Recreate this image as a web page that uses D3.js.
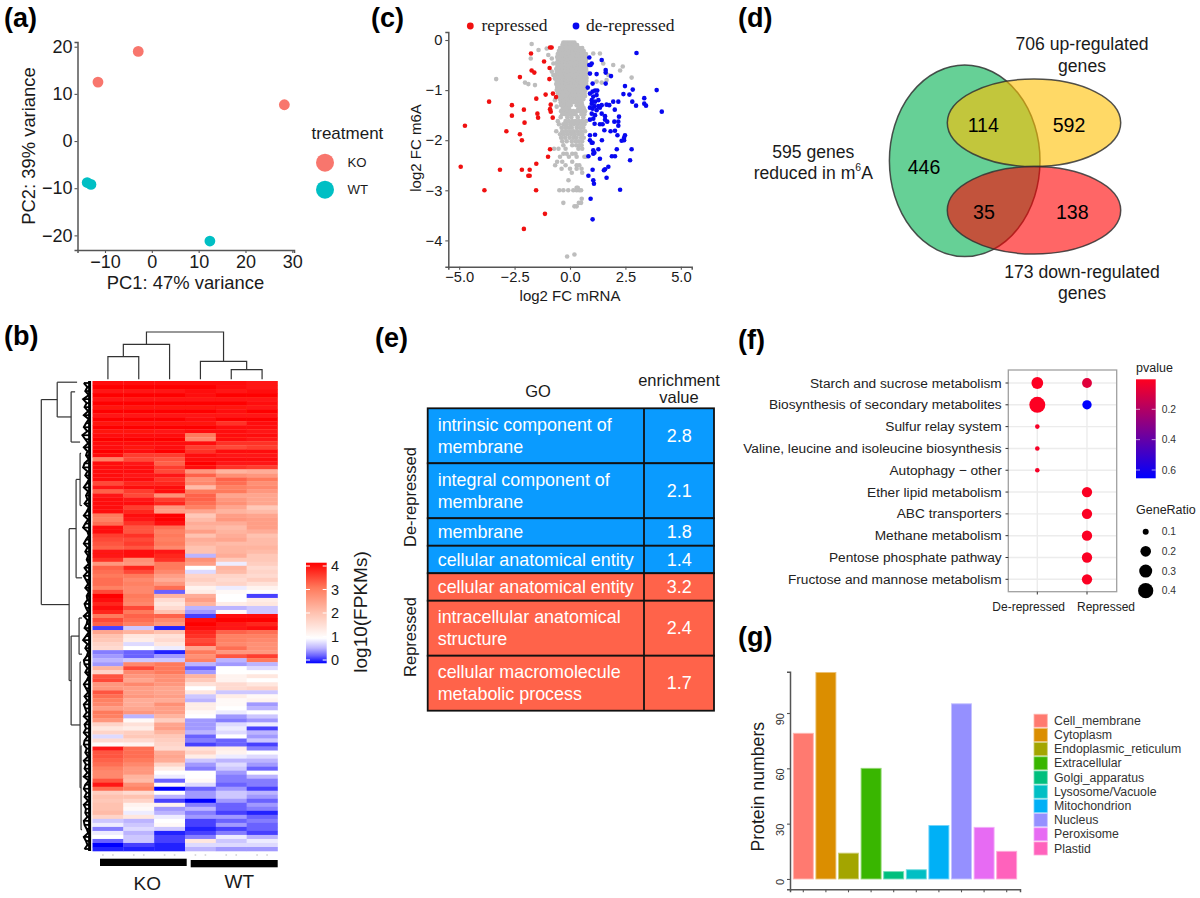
<!DOCTYPE html>
<html><head><meta charset="utf-8">
<script src="https://cdn.jsdelivr.net/npm/d3@7/dist/d3.min.js"></script>
<style>html,body{margin:0;padding:0;background:#fff}svg{display:block}text{font-family:"Liberation Sans",Arial,sans-serif}</style>
</head><body><svg id="c" width="1200" height="898"></svg>
<script>
// ---------- panel (a)
const pcaKO=[[28.3,7.7],[-11.5,12.5],[-2.9,19]];
const pcaWT=[[-13.8,-8.8],[-13,-9.2],[12.4,-21.2]];
const pcaXTicks=[-10,0,10,20,30], pcaYTicks=[-20,-10,0,10,20];
// ---------- panel (c)
const repressed=[[-4.93,-2.53],[-4.74,-1.71],[-3.86,-3],[-3.65,-1.23],[-3.16,-2.59],[-2.87,-1.82],[-2.62,-1.3],[-2.62,-1.51],[-2.26,-.74],[-2.26,-1.88],[-2.17,-2],[-2.17,-2.59],[-2.08,-1.39],[-2.05,-1.65],[-2.08,-3.77],[-1.88,-2.71],[-1.82,-2.71],[-1.82,-2.59],[-1.76,-.27],[-1.73,-.61],[-1.61,-.65],[-1.53,-3],[-1.52,-1.17],[-1.52,-2.47],[-1.47,-1.47],[-1.44,-1.55],[-1.17,-.43],[-1.13,-3.47],[-1.1,-1.09],[-.99,-2.33],[-.93,-.78],[-.92,-.56],[-.9,-2.18],[-.9,-.15],[-.83,-.15],[-.87,-1.29],[-.9,-1.38],[-.87,-1.43],[-.78,-1.55],[-.77,-1.07],[-.63,-1.14]];
const derepressed=[[3,-.26],[.87,-.35],[1.43,-.4],[.87,-.5],[.93,-.5],[.98,-.47],[1.61,-.6],[1.61,-.65],[.9,-.67],[1.2,-.68],[1.85,-.72],[.8,-.95],[1.02,-.87],[1.61,-.87],[3.91,-1],[2.48,-.92],[2.83,-.99],[2.68,-1.09],[2.41,-1.08],[3.35,-1.16],[2.81,-1.23],[2.98,-1.31],[3.35,-1.27],[3.43,-1.31],[4.14,-1.43],[2.18,-1.23],[1.95,-1.23],[2.02,-1.39],[2.21,-1.53],[2.18,-1.63],[2,-1.63],[2.18,-1.71],[.9,-1.07],[1.02,-1.03],[1.13,-1.01],[1.23,-1.01],[1.05,-1.13],[1.2,-1.1],[.98,-1.2],[1.13,-1.23],[1.28,-1.2],[.98,-1.27],[1.1,-1.32],[1.28,-1.32],[1.43,-1.3],[1.65,-1.29],[1.77,-1.3],[.9,-1.35],[1.02,-1.37],[1.2,-1.4],[1.35,-1.35],[1.13,-1.5],[.98,-1.47],[1.05,-1.57],[.9,-1.59],[1.43,-1.47],[1.58,-1.52],[1.58,-1.59],[1.11,-1.67],[1.35,-1.68],[1.47,-1.68],[1.68,-1.63],[1.83,-1.82],[1.55,-1.8],[1.13,-1.89],[.9,-1.9],[2.03,-1.81],[2.14,-1.9],[2.48,-1.9],[2.44,-1.95],[2.44,-2],[2.33,-2.01],[.9,-2],[.98,-2.05],[1.02,-2.05],[1.44,-2],[1.28,-2.18],[1.05,-2.2],[1.1,-2.25],[2.78,-2.18],[2.11,-2.18],[.83,-2.32],[1.05,-2.27],[1.35,-2.37],[1.89,-2.32],[2.03,-2.32],[2.71,-2.4],[1.73,-2.53],[1.58,-2.58],[1.53,-2.6],[1.02,-2.59],[.83,-2.71],[1.05,-2.8],[1.08,-2.87],[1.65,-2.75],[2.26,-2.99],[.93,-3.17],[1.02,-3.58]];
const grayRows=[
[-.05,[-.3,-.2,-.1,0,.1,.2]],
[-.1,[-.34,-.22,-.12,-.02,.08,.2,.32]],
[-.16,[-.45,-.33,-.2,-.08,.05,.18,.3,.42,.55]],
[-.22,[-.5,-.38,-.26,-.14,0,.13,.25,.38,.5,.62]],
[-.28,[-.55,-.42,-.3,-.17,-.04,.09,.21,.34,.47,.6,.72]],
[-.34,[-.58,-.45,-.32,-.2,-.07,.06,.19,.31,.44,.58,.7]],
[-.4,[-.55,-.43,-.3,-.16,-.03,.1,.23,.35,.48,.6,.72]],
[-.46,[-.6,-.47,-.33,-.2,-.07,.06,.2,.33,.45,.58,.72]],
[-.52,[-.57,-.44,-.3,-.17,-.03,.1,.22,.36,.49,.62,.74]],
[-.58,[-.62,-.48,-.34,-.2,-.06,.07,.2,.33,.47,.6,.73]],
[-.64,[-.6,-.45,-.3,-.17,-.04,.1,.24,.37,.5,.63,.75]],
[-.7,[-.65,-.5,-.35,-.2,-.07,.06,.2,.33,.46,.6,.72]],
[-.76,[-.62,-.47,-.32,-.18,-.04,.09,.22,.36,.5,.63,.75]],
[-.82,[-.6,-.46,-.33,-.2,-.06,.08,.2,.34,.48,.6,.74]],
[-.88,[-.62,-.48,-.34,-.2,-.07,.07,.22,.36,.49,.63,.73]],
[-.94,[-.58,-.44,-.3,-.16,-.03,.1,.24,.38,.5,.62,.72]],
[-1,[-.6,-.46,-.32,-.2,-.06,.08,.2,.33,.46,.6,.7]],
[-1.06,[-.55,-.42,-.28,-.15,0,.13,.26,.4,.53,.66]],
[-1.12,[-.5,-.38,-.24,-.1,.04,.17,.3,.44,.56,.68]],
[-1.18,[-.45,-.32,-.18,-.05,.08,.22,.35,.48,.6]],
[-1.24,[-.42,-.28,-.14,0,.13,.26,.4,.52]],
[-1.3,[-.4,-.25,-.1,.03,.3,.42,.55]],
[-1.36,[-.32,-.18,-.05,.38,.5,.62]],
[-1.42,[-.4,-.27,-.13,.02,.15,.3,.45,.58,.68]],
[-1.48,[-.35,-.2,-.05,.12,.25,.52,.65]],
[-1.54,[-.42,-.12,.06,.35,.6]],
[-1.62,[-.55,-.2,-.05,.1,.25,.4,.55,.72]],
[-1.68,[-.5,-.3,-.15,.02,.18,.35,.5,.65]],
[-1.75,[-.38,-.22,-.08,.08,.3,.45,.6]],
[-1.82,[-.62,-.35,-.18,0,.16,.32,.5,.68]],
[-1.88,[-.45,-.28,-.12,.05,.22,.4,.55]],
[-1.95,[-.4,-.22,-.02,.15,.3,.5,.62]],
[-2.02,[-.35,-.15,.08,.25,.4,.55]],
[-2.1,[-.3,.1,.28,.42,.52]],
[-2.17,[-.72,-.52,-.2,.38,.55]],
[-2.27,[-.3,-.15,.1,.25]],
[-2.33,[-.45,-.05,.3,.65,.72]],
[-2.43,[-.58,-.35,.1]],
[-2.5,[-.67,-.2,.3,.42]],
[-2.57,[-.38,0,.3,.52]],
[-2.65,[.08,.55]],
[-2.8,[-.07]],
[-3,[-.48,-.3,-.08,.15,.3,.42,.5]],
[-2.95,[.3,.35]],
[-3.17,[.53]],
[-3.25,[-.3,.4,.5]],
[-3.32,[.2,.3]],
[-4.32,[-.13]],[-4.28,[.2]]];
const grayFringe=[[-1.73,-.08],[-1.77,-.37],[-3.33,-.78],[-2.03,-.85],[-1.88,-.88],[-1.58,-.9],[-1.42,-.2],[-1.05,-.17],[-.98,-.3],[-.82,-.37],[-.75,-.47],[-.82,-.63],[-.75,-.7],[-.68,-.77],[1.95,-.5],[2.38,-.53],[2.78,-.75],[2.26,-.61],[1.73,-.7],[1.35,-.27],[1.5,-.47],[1.65,-.8],[1.43,-.85],[1.2,-.83],[1.05,-.27],[-.6,-1.33],[-.68,-1.2]];
const pcXTicks=[-5,-2.5,0,2.5,5], pcYTicks=[-4,-3,-2,-1,0];
// ---------- panel (d)
const vennNumbers=[["446",0],["114",1],["592",2],["35",3],["138",4]];
// ---------- panel (e)
const goTerms=[["intrinsic component of","membrane"],["integral component of","membrane"],["membrane"],["cellular anatomical entity"],["cellular anatomical entity"],["intracellular anatomical","structure"],["cellular macromolecule","metabolic process"]];
const goValues=["2.8","2.1","1.8","1.4","3.2","2.4","1.7"];
const goGroups=["De-repressed","De-repressed","De-repressed","De-repressed","Repressed","Repressed","Repressed"];
// ---------- panel (f)
const keggTerms=["Starch and sucrose metabolism","Biosynthesis of secondary metabolites","Sulfur relay system","Valine, leucine and isoleucine biosynthesis","Autophagy − other","Ether lipid metabolism","ABC transporters","Methane metabolism","Pentose phosphate pathway","Fructose and mannose metabolism"];
const keggGroups=["De-repressed","Repressed"];
const keggDots=[[0,0,.24,.005],[0,1,.4,.005],[0,2,.05,.02],[0,3,.05,.02],[0,4,.05,.02],[1,0,.18,.08],[1,1,.17,.65],[1,5,.19,.01],[1,6,.19,.01],[1,7,.19,.01],[1,8,.19,.01],[1,9,.19,.01]];
const pvalTicks=[.2,.4,.6], ratioTicks=[.1,.2,.3,.4];
// ---------- panel (g)
const locNames=["Cell_membrane","Cytoplasm","Endoplasmic_reticulum","Extracellular","Golgi_apparatus","Lysosome/Vacuole","Mitochondrion","Nucleus","Peroxisome","Plastid"];
const locCounts=[79,112,14,60,4,5,29,95,28,15];
const locColors=["#FF7A70","#DB8E00","#A3A500","#39B600","#00BF7D","#00BFC4","#00B0F6","#9590FF","#E76BF3","#FF62BC"];
// ---------- panel (b)
const samples=["KO1","KO2","KO3","WT1","WT2","WT3"];
const heatRows=[
[3.9,3.9,3.9,3.9,3.9,3.8],[4,4,4,4,3.9,3.8],[3.8,3.8,3.8,3.9,3.8,3.9],[4,4,4,3.9,4,4],[3.8,3.8,3.8,3.8,3.8,3.8],[4,4,4,4,4,3.9],[3.85,3.85,3.85,3.85,3.85,3.8],[4,4,4,4,3.9,4],[3.8,3.8,3.8,3.8,3.8,3.8],[4,4,4,3.9,4,4],[3.85,3.85,3.85,3.85,3.6,3.9],[4,4,4,4,3.9,3.9],[3.85,3.85,3.8,3.9,3.9,3.8],
[3.9,3.9,3.9,3,3.9,3.9],[4,4,4,2.8,3.9,3.8],[3.9,3.9,3.9,3.9,3.6,3.6],[3.9,3.85,3.9,3.5,3.4,3.5],[4,3.9,4,3.6,3.9,3.9],[3.9,3.5,3.5,3.9,3.8,3.8],[2.9,3.4,3.3,3.9,3.9,3.9],[3.9,3.8,3.2,4,3.8,3.8],[3.9,3.9,3.5,3.9,3.6,3.5],[3.9,3.9,3.4,2.6,2.2,2.3],[3.9,3.8,3.8,3.2,2.7,2.6],[3.9,3.9,3.6,2.7,3.2,3],[3.4,3.7,3.7,2.8,3.1,2.7],[3.8,3.9,3.9,2.1,2.9,2.8],[3.2,3.5,3.9,3,3,2.6],[3.8,3.4,2.7,3.2,2.4,2.4],
[3.9,3.8,3.5,3.2,2.6,2.4],[3.9,3.9,3.7,3.1,2.7,2.4],[3.9,3.5,2.6,2.9,2.4,1.9],[3.9,3.7,2.5,2.4,2.2,2.1],[3,3.9,4,1.9,2.5,2.4],[2.9,3.8,4,2.1,2.6,2.5],[3.1,3.6,3.9,2.3,2.3,2.5],[3.9,3.3,3.1,2.2,2.1,2.5],[3.9,3.3,2.9,2.5,2.2,2.3],[3.5,3.6,3,2,2.3,2],[3.4,3.4,2.9,2.3,2.4,2.1],[3.3,3.5,3,2.2,2.1,2.1],[3.2,3.3,2.8,2,2.2,2.2],[3.8,3.9,3.8,2,2.2,2.1],[3.8,3.9,3.7,.6,2.3,1.9],[3.6,2.7,3.6,2.7,1.9,1.9],[2.6,2.6,3,2.5,.9,1.8],[3.2,3.7,3,1,2.2,1.6],[3.1,3.4,2.8,.8,2.1,1.7],[3,3,2.5,1.7,1.7,1.6],[3.1,2.8,2.3,1.8,1.6,1.8],[3.1,2.9,2.6,1.6,1.7,1.5],[2.9,2.8,3.1,1.2,.9,1.2],[3.4,2.8,.3,1.3,1.1,1],[4,3,2.2,2.3,1,.2],[3.9,2.9,1.6,2.5,1,1.3],[3.7,2.8,1.4,2.2,1.3,1.4],[3.9,3.4,1.6,.6,.6,.7],[3.7,3,2,.5,1.1,.7],[3,3.2,3.2,.2,3.9,3.9],
[3.4,3.1,2.8,3.9,4,4],[3.2,2.9,2.6,4,3.8,3.7],[.2,.7,.1,3.9,3.8,3.9],[2.4,2.2,2,3.7,3.2,3.1],[2,1.4,1.5,3.6,2.9,2.9],[1.9,1.3,1.6,3.4,2.9,2.8],[1.7,.8,1.4,3.5,2.8,2.7],[1.6,1,.9,2.4,3.1,2.7],[.4,.3,.1,3,2.6,2.6],[.5,.3,.5,2.7,3.3,3.5],[.6,.7,.7,2.9,.6,3],[.5,2.8,3,.6,.5,.6],[2.2,3.4,3,.3,1,.8],[1.7,2.8,3,.5,1,1],[3.3,2.6,2.7,2.2,1.2,1.4],[3.4,2.4,2.7,1.9,1.2,1],[2.6,2.8,2.6,1.5,1.6,1.4],[2.6,2.5,2.4,1,1.6,1.7],[3.3,2.5,2.4,1.4,.7,.7],[3.1,2.6,2.5,.7,1.3,1.1],[2.9,2.3,2.3,.6,1.1,1.2],[2.8,2.3,2.7,1.3,1.1,.5],[2.5,2.4,2.5,1.3,1,.6],[3,2.6,2.5,1.1,.9,1],[2.9,.6,2.2,1,.5,.7],[2.6,1.1,1.8,.5,.4,.5],[1.7,1.5,2.4,.5,.8,.9],[1.4,1.3,2.5,.5,.9,.2],[1.7,1.8,2.2,.6,.8,.6],[.8,1.9,1.9,.3,1,.5],
[1.6,1.6,1.8,.4,.3,.7],[1.1,1.2,1.7,.2,.3,.2],[3.8,3.1,1.6,1.5,1.3,.4],[3.3,3.1,2.3,1.7,1.2,1],[3.3,3.1,2.4,1.3,.9,.8],[3.2,3,2.3,.7,.6,.6],[3.1,2.8,1.7,.5,.8,.5],[2.9,2.6,1.3,.4,.7,.3],[2.8,2.6,1,1,.5,1],[2.8,2.2,.9,1,.4,.6],[3.3,2.1,.3,1.1,.4,.4],[3.8,2.7,1.1,.8,.3,.4],[3.1,2.9,0,.3,.5,.2],[1.8,1.6,1,.5,.7,.6],[2,2,.6,.5,.7,.5],[1.9,1.7,.2,0,.5,.3],[2,1.2,1.2,.4,.3,.5],[2,1.1,.5,.6,.3,.4],[2.1,.9,.6,.4,.2,.1],[1.7,1.4,.9,.5,.5,.3],[.7,.6,1,.2,.3,.4],[.9,.7,1.1,.2,.5,.3],[.4,.8,.7,.1,.2,.3],[.9,.6,.1,.2,.4,.2],[1,.7,.2,.4,.9,.6],[.3,.7,.2,1.4,.7,.9],[0,.2,.1,.8,.8,.8],[.1,.1,.1,.6,.5,.5]];
const heatTicks=[0,1,2,3,4];
const colTree={h:47.3,c:[{h:35,c:[{h:22.6,c:[{s:0},{s:1}]},{s:2}]},{h:18,c:[{s:3},{h:9.6,c:[{s:4},{s:5}]}]}]};
const rowTree={h:1,c:[{h:.68,c:[{h:.28,r:.3},{h:.4,c:[{h:.32,r:2.7},{h:.22,r:15.2}]}]},{h:.44,c:[{h:.3,c:[{h:.22,c:[{h:.2,r:18},{h:.18,r:31}]},{h:.18,r:49}]},{h:.4,c:[{h:.24,c:[{h:.18,r:59},{h:.18,r:68}]},{h:.22,c:[{h:.2,r:70},{h:.2,c:[{h:.19,r:90.8},{h:.18,r:111.7}]}]}]}]}]};
const rowComb=[.2,.1,.16,.06,.22,.12,.18,.08,.2,.06,.14,.2,.1,.24,.16,.08,.2,.1,.14,.06,.18,.22,.1,.16,.06,.12,.2,.08,.14,.1,.18,.06,.12,.2,.08,.16,.22,.1,.06,.14,.2,.1,.16,.08,.12,.06,.18,.1,.2,.14,.08,.16,.06,.12,.1,.18,.14,.08,.2,.1,.12,.18,.06,.14,.22,.1,.16,.08,.12,.2,.18,.1,.16,.06,.12,.2,.14,.08,.18,.1,.2,.16,.12,.2,.08,.18,.14,.2,.1,.18,.2,.12,.16,.08,.2,.14,.18,.1,.2,.06,.16,.2,.12,.18,.08,.2,.14,.16,.1,.2,.18,.12,.08,.2,.14,.1,.18];

const svg=d3.select("#c");
const defs=svg.append("defs");
defs.append("filter").attr("id","soft").attr("x","-2%").attr("y","-2%").attr("width","104%").attr("height","104%")
  .append("feGaussianBlur").attr("stdDeviation","0.4 0.7");
const SANS='"Liberation Sans",Arial,sans-serif';
function T(g,x,y,s,o={}){
  const t=g.append("text").attr("x",x).attr("y",y).text(s)
    .attr("font-size",o.size||14).attr("text-anchor",o.anchor||"middle")
    .attr("dominant-baseline",o.base||"central").attr("fill",o.fill||"#1a1a1a")
    .attr("font-weight",o.weight||"normal");
  if(o.family)t.style("font-family",o.family);
  if(o.rot)t.attr("transform",`rotate(${o.rot} ${x} ${y})`);
  return t;
}
function styleAxis(g,size,col="#555",w=1.5){
  g.attr("font-size",size).attr("font-family",SANS);
  g.selectAll(".domain").attr("stroke",col).attr("stroke-width",w);
  g.selectAll(".tick line").attr("stroke",col).attr("stroke-width",1.1);
  g.selectAll(".tick text").attr("fill","#1a1a1a");
}
// panel letters
[["(a)",4,27],["(b)",4,345],["(c)",371,27],["(d)",738,27],["(e)",375,347],["(f)",738,349],["(g)",738,646]].forEach(d=>T(svg,d[1],d[2],d[0],{size:27,weight:"bold",anchor:"start",base:"alphabetic",fill:"#000"}));

// ---------- (a)
{const g=svg.append("g");
 const x=d3.scaleLinear([-15.87,30.36],[77.5,294]),y=d3.scaleLinear([-23.1,21],[250,42]);
 const ax=g.append("g").attr("transform","translate(0,250)").call(d3.axisBottom(x).tickValues(pcaXTicks).tickSizeOuter(0).tickSize(3).tickPadding(2).tickFormat(d3.format("d")));styleAxis(ax,18);
 const ay=g.append("g").attr("transform","translate(77.5,0)").call(d3.axisLeft(y).tickValues(pcaYTicks).tickSizeOuter(0).tickSize(3).tickPadding(2).tickFormat(d3.format("d")));styleAxis(ay,18);
 g.selectAll(".ko").data(pcaKO).join("circle").attr("cx",d=>x(d[0])).attr("cy",d=>y(d[1])).attr("r",5.4).attr("fill","#F8766D");
 g.selectAll(".wt").data(pcaWT).join("circle").attr("class","wt").attr("cx",d=>x(d[0])).attr("cy",d=>y(d[1])).attr("r",5.4).attr("fill","#00BFC4");
 T(g,185.5,282,"PC1: 47% variance",{size:18.4});
 T(g,28,146,"PC2: 39% variance",{size:18.4,rot:-90});
 T(g,311.5,133,"treatment",{size:17,anchor:"start"});
 [["KO","#F8766D",162.7],["WT","#00BFC4",189.7]].forEach(d=>{g.append("circle").attr("cx",325).attr("cy",d[2]).attr("r",9).attr("fill",d[1]);T(g,347.5,d[2],d[0],{size:13.2,anchor:"start"});});
}
// ---------- (c)
{const g=svg.append("g");
 const x=d3.scaleLinear([-5.49,5.49],[448.3,691.7]),y=d3.scaleLinear([-4.525,.16],[266.7,32]);
 const gray=grayRows.flatMap(([v,xs])=>xs.map(u=>[u,v])).concat(grayFringe);
 g.selectAll(".g").data(gray).join("circle").attr("cx",d=>x(d[0])).attr("cy",d=>y(d[1])).attr("r",2.3).attr("fill","#bdbdbd");
 g.selectAll(".r").data(repressed).join("circle").attr("class","r").attr("cx",d=>x(d[0])).attr("cy",d=>y(d[1])).attr("r",2.3).attr("fill","#f01010");
 g.selectAll(".b").data(derepressed).join("circle").attr("class","b").attr("cx",d=>x(d[0])).attr("cy",d=>y(d[1])).attr("r",2.3).attr("fill","#0808f0");
 const ax=g.append("g").attr("transform","translate(0,266.7)").call(d3.axisBottom(x).tickValues(pcXTicks).tickSizeOuter(0).tickSize(3).tickPadding(2).tickFormat(d3.format(".1f")));styleAxis(ax,14.7);
 const ay=g.append("g").attr("transform","translate(448.3,0)").call(d3.axisLeft(y).tickValues(pcYTicks).tickSizeOuter(0).tickSize(3).tickPadding(3).tickFormat(d3.format("d")));styleAxis(ay,14.7);
 T(g,570,295,"log2 FC mRNA",{size:15});
 T(g,415,148,"log2 FC m6A",{size:15,rot:-90});
 const serif='"Liberation Serif",serif';
 g.append("circle").attr("cx",470.3).attr("cy",26).attr("r",3.4).attr("fill","#f01010");
 T(g,481.5,25,"repressed",{size:17.5,anchor:"start",family:serif});
 g.append("circle").attr("cx",576).attr("cy",26).attr("r",3.4).attr("fill","#0808f0");
 T(g,586,25,"de-repressed",{size:17.5,anchor:"start",family:serif});
}
// ---------- (d)
{const g=svg.append("g");
 [[964.7,160.8,75.3,95.8,"rgba(0,176,80,.6)"],[1034,122.8,86.7,43.8,"rgba(255,192,0,.6)"],[1034,210.3,86.7,43.7,"rgba(255,0,0,.6)"]].forEach(e=>
  g.append("ellipse").attr("cx",e[0]).attr("cy",e[1]).attr("rx",e[2]).attr("ry",e[3]).attr("fill",e[4]).attr("stroke","rgba(50,50,50,.85)").attr("stroke-width",1.5));
 const pos=[[924,166.7],[983.3,125],[1069,125],[984,211.7],[1072.3,212]];
 vennNumbers.forEach(d=>T(g,pos[d[1]][0],pos[d[1]][1],d[0],{size:19.6,fill:"#000"}));
 T(g,1082,44,"706 up-regulated",{size:17.6});T(g,1082,65.7,"genes",{size:17.6});
 T(g,1082,272.3,"173 down-regulated",{size:17.6});T(g,1082,293.3,"genes",{size:17.6});
 T(g,813.3,151.7,"595 genes",{size:17.6});
 const t=T(g,813.3,173.3,"reduced in m",{size:17.6});
 t.append("tspan").text("6").attr("font-size",10.5).attr("dy",-6);
 t.append("tspan").text("A").attr("dy",6);
}
// ---------- (e)
{const g=svg.append("g");
 const units=goTerms.map(t=>t.length===2?2:1);
 const cum=d3.cumsum(units);
 const y=d3.scaleLinear([0,11],[408.3,710.7]);
 const x0=427.7,x1=644,x2=714;
 const color={"De-repressed":"#0a9bff","Repressed":"#ff634a"};
 goTerms.forEach((t,i)=>{
  const a=y(i?cum[i-1]:0),b=y(cum[i]),m=(a+b)/2;
  g.append("rect").attr("x",x0).attr("y",a).attr("width",x2-x0).attr("height",b-a).attr("fill",color[goGroups[i]]).attr("stroke","#111").attr("stroke-width",1.8);
  t.forEach((s,k)=>T(g,437.7,m+(t.length===2?(k?10.8:-10.8):0),s,{size:17.9,anchor:"start",fill:"#fff"}));
  T(g,679.3,m,goValues[i],{size:18,fill:"#fff"});
 });
 g.append("line").attr("x1",x1).attr("x2",x1).attr("y1",y(0)).attr("y2",y(11)).attr("stroke","#111").attr("stroke-width",1.8);
 T(g,538,391,"GO",{size:16.5});T(g,679,380,"enrichment",{size:16.5});T(g,679,397,"value",{size:16.5});
 T(g,410,497,"De-repressed",{size:16.5,rot:-90});T(g,410,637,"Repressed",{size:16.5,rot:-90});
}
// ---------- (f)
{const g=svg.append("g");
 const y=d3.scalePoint(keggTerms,[383,579.3]);
 const x=d3.scalePoint(keggGroups,[1037.3,1087]);
 const color=d3.scaleLinear([0,.65],["#ff0020","#0000ff"]);
 const rad=d3.scaleLinear([.05,.1,.2,.3,.4],[2.3,3,5.4,6.6,8]);
 keggTerms.forEach(t=>g.append("line").attr("x1",1008.3).attr("x2",1116.7).attr("y1",y(t)).attr("y2",y(t)).attr("stroke","#ececec").attr("stroke-width",1.4));
 keggGroups.forEach(t=>g.append("line").attr("y1",370).attr("y2",591.7).attr("x1",x(t)).attr("x2",x(t)).attr("stroke","#ececec").attr("stroke-width",1.4));
 g.append("rect").attr("x",1008.3).attr("y",370).attr("width",108.4).attr("height",221.7).attr("fill","none").attr("stroke","#a0a0a0").attr("stroke-width",1.3);
 g.selectAll(".d").data(keggDots).join("circle").attr("class","d").attr("cx",d=>x(keggGroups[d[0]])).attr("cy",d=>y(keggTerms[d[1]])).attr("r",d=>rad(d[2])).attr("fill",d=>color(d[3]));
 keggTerms.forEach(t=>{T(g,1001.7,y(t),t,{size:13.7,anchor:"end",fill:"#222"});g.append("line").attr("x1",1005.5).attr("x2",1008.3).attr("y1",y(t)).attr("y2",y(t)).attr("stroke","#333");});
 keggGroups.forEach(t=>g.append("line").attr("y1",591.7).attr("y2",594.5).attr("x1",x(t)).attr("x2",x(t)).attr("stroke","#333"));
 T(g,1028.7,606.7,keggGroups[0],{size:12,fill:"#222"});T(g,1106,606.7,keggGroups[1],{size:12,fill:"#222"});
 T(g,1136,368,"pvalue",{size:12.5,anchor:"start",fill:"#222"});
 const grad=defs.append("linearGradient").attr("id","pg").attr("x1",0).attr("x2",0).attr("y1",0).attr("y2",1);
 grad.append("stop").attr("offset",0).attr("stop-color",color(0));grad.append("stop").attr("offset",1).attr("stop-color",color(.65));
 g.append("rect").attr("x",1136).attr("y",379.3).attr("width",19.7).attr("height",99).attr("fill","url(#pg)");
 const py=d3.scaleLinear([.2,.6],[409.3,470]);
 pvalTicks.forEach(v=>{
  g.append("line").attr("x1",1136).attr("x2",1140).attr("y1",py(v)).attr("y2",py(v)).attr("stroke","#fff").attr("stroke-opacity",.6);
  g.append("line").attr("x1",1151.7).attr("x2",1155.7).attr("y1",py(v)).attr("y2",py(v)).attr("stroke","#fff").attr("stroke-opacity",.6);
  T(g,1161.7,py(v),d3.format(".1f")(v),{size:10.3,anchor:"start",fill:"#333"});
 });
 T(g,1136,510,"GeneRatio",{size:12.5,anchor:"start",fill:"#222"});
 const ry=d3.scalePoint(ratioTicks,[531.7,590.7]);
 const lr=d3.scaleLinear([.1,.2,.3,.4],[3,5.3,6.5,7.6]);
 ratioTicks.forEach(v=>{g.append("circle").attr("cx",1145.7).attr("cy",ry(v)).attr("r",lr(v)).attr("fill","#000");T(g,1161.7,ry(v),d3.format(".1f")(v),{size:10.3,anchor:"start",fill:"#333"});});
}
// ---------- (g)
{const g=svg.append("g");
 const x=d3.scaleBand(locNames,[790,1020]).paddingInner(.115).paddingOuter(.146);
 const y=d3.scaleLinear([-5.6,112.4],[889.3,671.7]);
 g.selectAll(".bar").data(locCounts).join("rect").attr("class","bar").attr("x",(d,i)=>x(locNames[i])).attr("width",x.bandwidth()).attr("y",d=>y(d)).attr("height",d=>y(0)-y(d))
  .attr("fill",(d,i)=>locColors[i]).attr("stroke",(d,i)=>d3.interpolateRgb(locColors[i],"#fff")(.45)).attr("stroke-width",.9);
 const ax=g.append("g").attr("transform","translate(0,889.3)").call(d3.axisBottom(x).tickSizeOuter(0).tickSize(3).tickFormat(""));styleAxis(ax,10);
 const ay=g.append("g").attr("transform","translate(790,0)").call(d3.axisLeft(y).tickValues([0,30,60,90]).tickSizeOuter(0).tickSize(3).tickFormat(""));styleAxis(ay,10);
 [0,30,60,90].forEach(v=>T(g,780,y(v),String(v),{size:11,anchor:"end",rot:-90,fill:"#333"}));
 T(g,758,786.7,"Protein numbers",{size:17.7,rot:-90});
 const ly=d3.scalePoint(locNames,[720.7,848.5]);
 locNames.forEach((n,i)=>{
  g.append("rect").attr("x",1034).attr("y",ly(n)-6.5).attr("width",13.3).attr("height",13).attr("fill",locColors[i]).attr("stroke",d3.interpolateRgb(locColors[i],"#fff")(.45)).attr("stroke-width",.8);
  T(g,1054,ly(n),n,{size:12.3,anchor:"start",fill:"#333"});
 });
}
// ---------- (b)
{const g=svg.append("g");
 const x=d3.scaleBand(samples,[92.5,277.5]);
 const y=d3.scaleBand(d3.range(heatRows.length),[381,851]);
 const color=d3.scaleLinear([0,.3,.6,1,2,3,4],["#0000ff","#6a62ff","#bcb4ff","#ffffff","#ffc2b0","#ff7a5c","#ff0000"]).clamp(true);
 const heat=g.append("g").attr("filter","url(#soft)");
 heatRows.forEach((row,i)=>row.forEach((v,j)=>heat.append("rect").attr("x",x(samples[j])).attr("y",y(i)).attr("width",x.bandwidth()+.3).attr("height",y.bandwidth()+.3).attr("fill",color(v))));
 // row dendrogram
 const rh=d3.scaleLinear([0,1],[91,41.3]);
 const ry=r=>381+r*y.bandwidth();
 const treeG=g.append("g").attr("fill","none").attr("stroke","#333").attr("stroke-width",1.2);
 (function walk(n){
   if(!n.c)return n.r;
   const rs=n.c.map(walk),m=d3.mean(rs);
   n.c.forEach((c,i)=>treeG.append("path").attr("d",`M${rh(n.h)},${ry(rs[i])}H${rh(c.h)}`));
   treeG.append("path").attr("d",`M${rh(n.h)},${ry(rs[0])}V${ry(rs[1])}`);
   return m;
 })(rowTree);
 const comb=g.append("g").attr("stroke","#000").attr("fill","none");
 const depth=rowComb.map(d=>d*.72);
 comb.append("path").attr("stroke-width",2).attr("d",d3.line().x(d=>rh(d)).y((d,i)=>y(i)+y.bandwidth()/2)(depth));
 depth.forEach((d,i)=>comb.append("line").attr("x1",rh(d)).attr("x2",91).attr("y1",y(i)+y.bandwidth()/2).attr("y2",y(i)+y.bandwidth()/2).attr("stroke-width",1.8));
 comb.append("line").attr("x1",89.6).attr("x2",89.6).attr("y1",381).attr("y2",851).attr("stroke-width",3);
 // column dendrogram
 const ch=d3.scaleLinear([0,47.3],[379.3,332]);
 const cg=g.append("g").attr("fill","none").attr("stroke","#333").attr("stroke-width",1.2);
 (function walk(n){
   if(n.c===undefined)return [x(samples[n.s])+x.bandwidth()/2,0];
   const k=n.c.map(walk);
   cg.append("path").attr("d",`M${k[0][0]},${ch(k[0][1])}V${ch(n.h)}H${k[1][0]}V${ch(k[1][1])}`);
   return [(k[0][0]+k[1][0])/2,n.h];
 })(colTree);
 // sample bars
 g.append("rect").attr("x",100).attr("y",858.7).attr("width",86.7).attr("height",7.3).attr("fill","#000");
 g.append("rect").attr("x",190.7).attr("y",860).attr("width",87).attr("height",7.3).attr("fill","#000");
 T(g,147.3,883,"KO",{size:19});T(g,239.3,881,"WT",{size:19});
 samples.forEach(s=>{const c=x(s)+x.bandwidth()/2;[-5,5].forEach(o=>g.append("rect").attr("x",c+o-.8).attr("y",854.5).attr("width",1.6).attr("height",1).attr("fill","#bbb"));});
 // colour key
 const ly=d3.scaleLinear([0,4],[660,566]);
 const lg=defs.append("linearGradient").attr("id","hg").attr("x1",0).attr("x2",0).attr("y1",1).attr("y2",0);
 [0,.3,.6,1,2,3,4].forEach(v=>{lg.append("stop").attr("offset",(ly(0)-ly(v))/(ly(0)-ly(4))).attr("stop-color",color(v));});
 g.append("rect").attr("x",306).attr("y",ly(4.14)).attr("width",20.7).attr("height",ly(-.14)-ly(4.14)).attr("fill","url(#hg)");
 heatTicks.forEach(v=>{
  g.append("line").attr("x1",306).attr("x2",310).attr("y1",ly(v)).attr("y2",ly(v)).attr("stroke","#fff");
  g.append("line").attr("x1",322.7).attr("x2",326.7).attr("y1",ly(v)).attr("y2",ly(v)).attr("stroke","#fff");
  T(g,331,ly(v),String(v),{size:14.5,anchor:"start"});
 });
 T(g,360,612,"log10(FPKMs)",{size:19,rot:-90});
}
</script></body></html>
